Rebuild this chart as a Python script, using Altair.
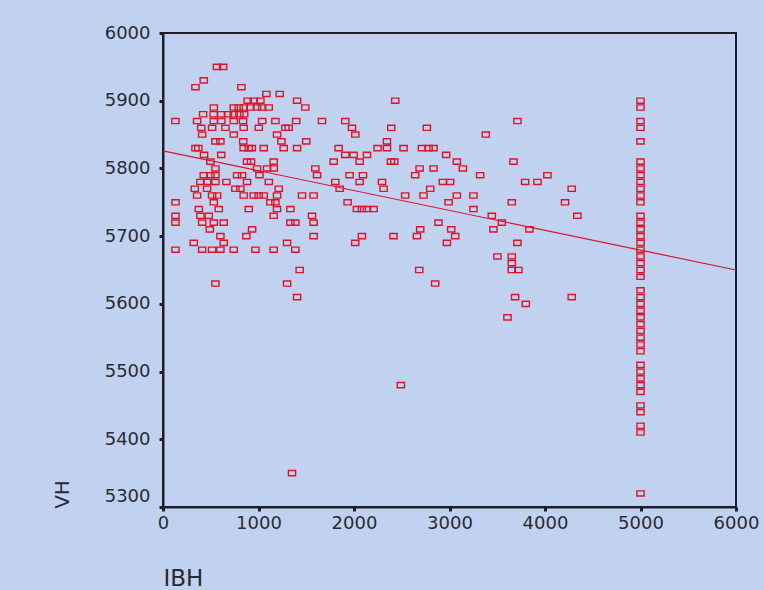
import altair as alt
import pandas as pd

# VH levels (500 mb height) and the IBH readings seen at each level
vh_levels = [5950, 5930, 5920, 5910, 5900, 5890, 5880, 5870, 5860, 5850,
             5840, 5830, 5820, 5810, 5800, 5790, 5780, 5770, 5760, 5750,
             5740, 5730, 5720, 5710, 5700, 5690, 5680, 5670, 5660, 5650,
             5630, 5610, 5600, 5580, 5480, 5350]
ibh_rows = [
    [565, 630],
    [427],
    [340, 821],
    [1083, 1222],
    [887, 950, 1020, 1404, 2432],
    [532, 741, 793, 845, 915, 985, 1038, 1107, 1490],
    [420, 530, 610, 680, 740, 800, 850],
    [130, 357, 532, 610, 741, 838, 1038, 1177, 1395, 1665, 1909, 3711],
    [400, 514, 654, 845, 1003, 1281, 1316, 1979, 2390, 2763],
    [410, 741, 1194, 2014, 3380],
    [549, 601, 840, 1240, 1500, 2345],
    [340, 370, 845, 898, 930, 1055, 1264, 1404, 1839, 2247, 2345, 2519, 2711, 2781, 2833],
    [430, 610, 1909, 1996, 2136, 2965],
    [497, 880, 922, 1159, 1787, 2059, 2387, 2422, 3077, 3670],
    [549, 985, 1090, 1160, 1595, 2687, 2833, 3140],
    [427, 497, 549, 776, 828, 1010, 1613, 1954, 2094, 2641, 3321, 4025],
    [392, 462, 549, 664, 880, 1108, 1804, 2059, 2293, 2931, 3007, 3792, 3921],
    [333, 462, 758, 810, 1212, 1850, 2310, 2798, 4280],
    [357, 514, 567, 845, 950, 1002, 1055, 1194, 1456, 1577, 2536, 2728, 3077, 3251],
    [131, 532, 1124, 1177, 1933, 2990, 3652, 4210],
    [375, 584, 898, 1194, 1334, 2031, 2083, 2136, 2205, 3251],
    [131, 392, 479, 1159, 1560, 3443, 4339],
    [131, 410, 532, 636, 1334, 1386, 1577, 2885, 3548],
    [490, 933, 2693, 3018, 3460, 3837],
    [601, 873, 1577, 2083, 2414, 2659, 3060],
    [322, 636, 1299, 2013, 2973, 3711],
    [131, 410, 514, 601, 741, 968, 1159, 1386],
    [3502, 3652],
    [3652],
    [1431, 2683, 3652, 3722],
    [549, 1299, 2850],
    [1404, 3687, 4280],
    [3799],
    [3607],
    [2491],
    [1351],
]

# Observations with IBH capped at 5000
capped_ibh = 5000
capped_vh = [5900, 5890, 5870, 5860, 5840, 5810, 5800, 5790, 5780, 5770,
             5760, 5750, 5730, 5720, 5710, 5700, 5690, 5680, 5670, 5660,
             5650, 5640, 5620, 5610, 5600, 5590, 5580, 5570, 5560, 5550,
             5540, 5530, 5510, 5500, 5490, 5480, 5470, 5450, 5440, 5420,
             5410, 5320]

# Linear fit line
fit_ibh = [0, 6000]
fit_vh = [5826, 5650]

x_ticks = [0, 1000, 2000, 3000, 4000, 5000, 6000]
y_ticks = [5300, 5400, 5500, 5600, 5700, 5800, 5900, 6000]

rows = []
for v, xs in zip(vh_levels, ibh_rows):
    for x in xs:
        rows.append({"IBH": x, "VH": v})
for v in capped_vh:
    rows.append({"IBH": capped_ibh, "VH": v})
points = pd.DataFrame(rows)
fit = pd.DataFrame({"IBH": fit_ibh, "VH": fit_vh})

BG = "#C1D2F0"
RED = "#DD1426"
INK = "#1E1E2A"
FONT = "DejaVu Sans"

x_scale = alt.Scale(domain=[0, 6000], nice=False, zero=False)
y_scale = alt.Scale(domain=[5300, 6000], nice=False, zero=False)

x_axis = alt.Axis(
    values=x_ticks, grid=False, format="d", labelFlush=False,
    domainColor=INK, domainWidth=2, tickColor=INK, tickWidth=3, tickSize=4,
    labelFont=FONT, labelFontSize=18, labelColor="#2A2A33", labelPadding=3,
    title="IBH", titleFont=FONT, titleFontSize=23, titleFontWeight="normal",
    titleColor="#2A2A33", titleAlign="left", titleAnchor="start",
    titleBaseline="middle", titleX=0, titleY=71,
)
y_axis = alt.Axis(
    values=y_ticks, grid=False, format="d", labelFlush=False,
    domainColor=INK, domainWidth=2, tickColor=INK, tickWidth=3, tickSize=4,
    labelFont=FONT, labelFontSize=18, labelColor="#2A2A33", labelPadding=9,
    labelOffset={"condition": {"test": "datum.value == 5300", "value": -11}, "value": 0},
    title="VH", titleFont=FONT, titleFontSize=20, titleFontWeight="normal",
    titleColor="#2A2A33", titleAngle=270, titleAlign="center",
    titleBaseline="middle", titleX=-101, titleY=461,
)

pts = alt.Chart(points).mark_point(
    shape="M-1,-0.72H1V0.72H-1Z", size=52, filled=False,
    stroke=RED, strokeWidth=1.4, opacity=1,
).encode(
    x=alt.X("IBH:Q", scale=x_scale, axis=x_axis),
    y=alt.Y("VH:Q", scale=y_scale, axis=y_axis),
)

line = alt.Chart(fit).mark_line(color=RED, strokeWidth=1.2).encode(
    x=alt.X("IBH:Q", scale=x_scale),
    y=alt.Y("VH:Q", scale=y_scale),
)

chart = alt.layer(pts, line).properties(
    width=573, height=474,
    padding={"left": 163, "top": 33, "right": 28, "bottom": 83},
    autosize=alt.AutoSizeParams(type="none"),
    background=BG,
).configure_view(
    stroke=INK, strokeWidth=2, fill=BG,
)

chart.save("out.html", embed_options={"renderer": "svg", "actions": False})
